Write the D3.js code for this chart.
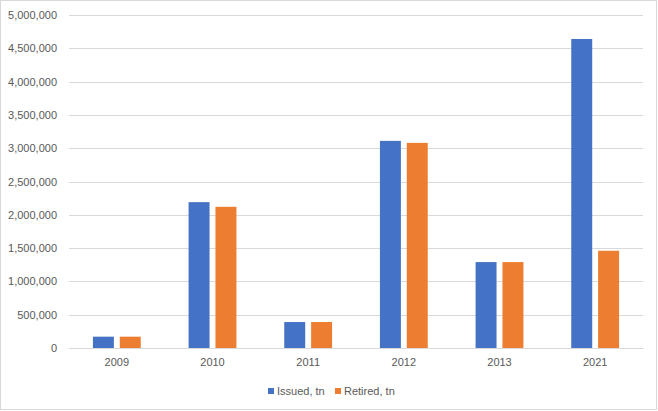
<!DOCTYPE html>
<html>
<head>
<meta charset="utf-8">
<script src="https://cdn.jsdelivr.net/npm/d3@7"></script>
<style>
body { margin: 0; background: #fff; }
text { font-family: "Liberation Sans", Arial, sans-serif; fill: #595959; }
</style>
</head>
<body>
<script>
// data
var years = ["2009", "2010", "2011", "2012", "2013", "2021"];
var issued = [170000, 2190000, 390000, 3110000, 1290000, 4640000];
var retired = [170000, 2120000, 390000, 3080000, 1290000, 1460000];
var seriesNames = ["Issued, tn", "Retired, tn"];
var yTicks = [0, 500000, 1000000, 1500000, 2000000, 2500000, 3000000, 3500000, 4000000, 4500000, 5000000];

var colors = ["#4472C4", "#ED7D31"];
var screen = {width: 658, height: 411};
var margins = {left: 69, right: 15, top: 15, bottom: 63};
var graph = {
    width: screen.width - margins.left - margins.right,
    height: screen.height - margins.top - margins.bottom
};

var svg = d3.select("body").append("svg")
    .attr("width", screen.width)
    .attr("height", screen.height);

// chart border
svg.append("rect")
    .attr("x", 0.5).attr("y", 0.5)
    .attr("width", 656).attr("height", 409)
    .attr("fill", "#fff")
    .attr("stroke", "#D9D9D9");

var xScale = d3.scaleBand().domain(years).range([0, graph.width])
    .paddingInner(0.5).paddingOuter(0.25);
var inner = d3.scaleBand().domain([0, 1]).range([0, xScale.bandwidth()]).paddingInner(0.22);
var yScale = d3.scaleLinear().domain([0, 5000000]).range([graph.height, 0]);

var plot = svg.append("g")
    .attr("transform", "translate(" + margins.left + "," + margins.top + ")");

// gridlines
plot.selectAll(".grid").data(yTicks).enter().append("line")
    .attr("x1", 0).attr("x2", graph.width)
    .attr("y1", function (d) { return Math.round(yScale(d)) + 0.5; })
    .attr("y2", function (d) { return Math.round(yScale(d)) + 0.5; })
    .attr("stroke", "#D9D9D9");

// y axis labels
var yAxis = d3.axisLeft(yScale).tickValues(yTicks)
    .tickFormat(d3.format(",")).tickSize(0).tickPadding(12);
plot.append("g").call(yAxis)
    .call(function (g) { g.select(".domain").remove(); })
    .selectAll("text")
    .style("font-size", "11px")
    .attr("fill", "#595959");

// bars
var all = [issued, retired];
all.forEach(function (vals, s) {
    plot.selectAll(".bar" + s).data(vals).enter().append("rect")
        .attr("x", function (d, i) { return xScale(years[i]) + inner(s); })
        .attr("y", function (d) { return yScale(d); })
        .attr("width", inner.bandwidth())
        .attr("height", function (d) { return graph.height - yScale(d); })
        .attr("fill", colors[s]);
});

// x axis
var xAxis = d3.axisBottom(xScale).tickSize(0).tickPadding(10);
var xg = plot.append("g")
    .attr("transform", "translate(0," + graph.height + ")")
    .call(xAxis);
xg.select(".domain").attr("stroke", "#D9D9D9");
xg.selectAll("text").style("font-size", "11px").attr("fill", "#595959");

// legend
var legendX = [268, 335];
var legend = svg.selectAll(".legend").data(seriesNames).enter().append("g")
    .attr("transform", function (d, i) { return "translate(" + legendX[i] + ",388)"; });
legend.append("rect")
    .attr("width", 6).attr("height", 6)
    .attr("fill", function (d, i) { return colors[i]; });
legend.append("text")
    .attr("x", 9).attr("y", 6.5)
    .style("font-size", "11px")
    .text(function (d) { return d; });
</script>
</body>
</html>
